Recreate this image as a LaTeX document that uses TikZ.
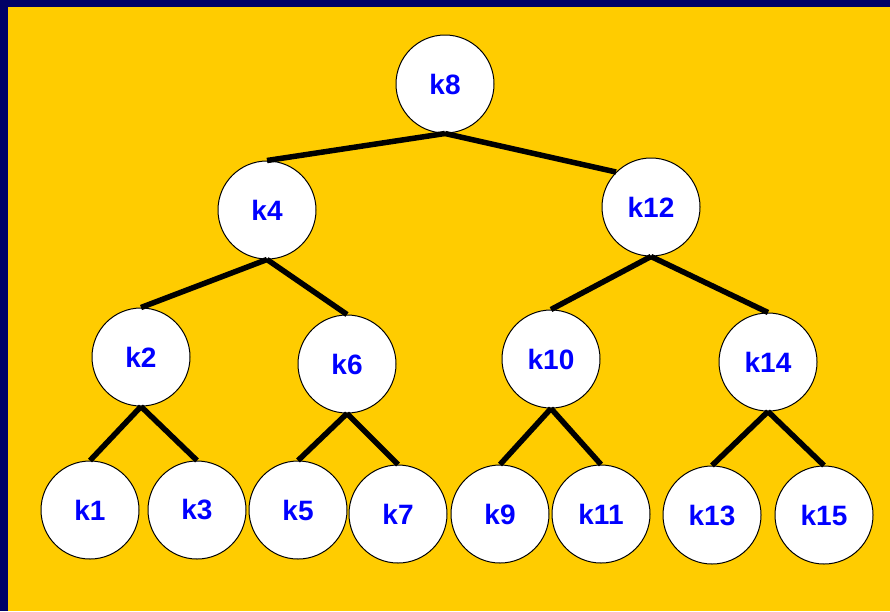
\documentclass[tikz,border=0pt]{standalone}
\usepackage{fontspec}
\setmainfont{Liberation Sans}
\definecolor{gold}{HTML}{FFCC00}
\definecolor{navy}{HTML}{000066}
\definecolor{keyblue}{HTML}{0000FF}

\begin{document}
\begin{tikzpicture}[x=1pt, y=-1pt,
        key/.style={circle, draw=black, line width=1pt, fill=white, minimum size=98pt, inner sep=0pt,
            text=keyblue, font=\fontsize{28}{28}\selectfont\bfseries},
        link/.style={line width=5.5pt}]
        \fill[gold] (0,0) rectangle (890,611);
        \fill[navy] (0,0) rectangle (890,7);
        \fill[navy] (0,0) rectangle (8,611);
        \node[key] (k8) at (445,84) {k8};
        \node[key] (k4) at (267,210) {k4};
        \node[key] (k12) at (651,207) {k12};
        \node[key] (k2) at (141,357) {k2};
        \node[key] (k6) at (347,364) {k6};
        \node[key] (k10) at (551,359) {k10};
        \node[key] (k14) at (768,362) {k14};
        \node[key] (k1) at (90,510) {k1};
        \node[key] (k3) at (197,510) {k3};
        \node[key] (k5) at (298,510) {k5};
        \node[key] (k7) at (398,514) {k7};
        \node[key] (k9) at (500,514) {k9};
        \node[key] (k11) at (601,514) {k11};
        \node[key] (k13) at (712,515) {k13};
        \node[key] (k15) at (824,515) {k15};
        \draw[link] (k8.south) -- (k4.north);
        \draw[link] (k8.south) -- (k12.north west);
        \draw[link] (k4.south) -- (k2.north);
        \draw[link] (k4.south) -- (k6.north);
        \draw[link] (k12.south) -- (k10.north);
        \draw[link] (k12.south) -- (k14.north);
        \draw[link] (k2.south) -- (k1.north);
        \draw[link] (k2.south) -- (k3.north);
        \draw[link] (k6.south) -- (k5.north);
        \draw[link] (k6.south) -- (k7.north);
        \draw[link] (k10.south) -- (k9.north);
        \draw[link] (k10.south) -- (k11.north);
        \draw[link] (k14.south) -- (k13.north);
        \draw[link] (k14.south) -- (k15.north);
    \end{tikzpicture}
\end{document}
